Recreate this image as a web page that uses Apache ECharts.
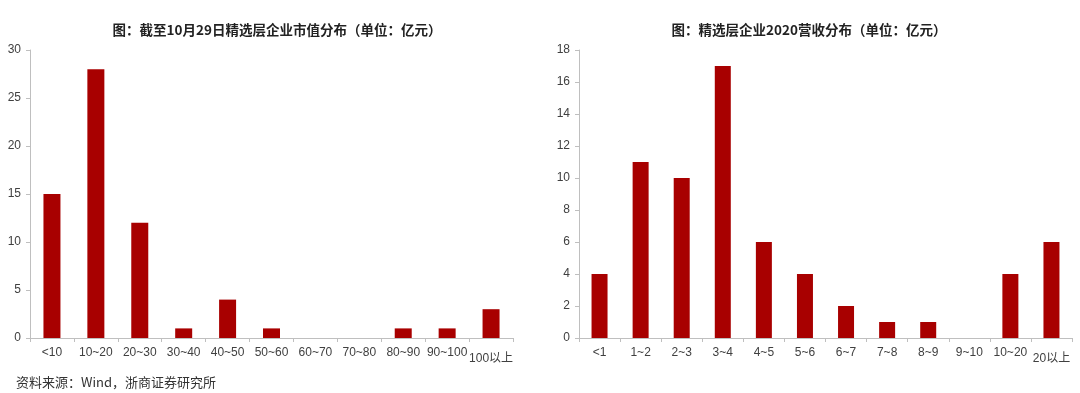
<!DOCTYPE html>
<html>
<head>
<meta charset="utf-8">
<script src="https://cdn.jsdelivr.net/npm/echarts@6/dist/echarts.min.js"></script>
<style>
html,body{margin:0;padding:0;background:#fff;}
#c{width:1080px;height:393px;}
</style>
</head>
<body>
<div id="c"></div>
<script>
// Left chart: market cap distribution
const capCategories = ['<10','10~20','20~30','30~40','40~50','50~60','60~70','70~80','80~90','90~100','100以上'];
const capValues = [15, 28, 12, 1, 4, 1, 0, 0, 1, 1, 3];
const capTicks = [0, 5, 10, 15, 20, 25, 30];

// Right chart: 2020 revenue distribution
const revCategories = ['<1','1~2','2~3','3~4','4~5','5~6','6~7','7~8','8~9','9~10','10~20','20以上'];
const revValues = [4, 11, 10, 17, 6, 4, 2, 1, 1, 0, 4, 6];
const revTicks = [0, 2, 4, 6, 8, 10, 12, 14, 16, 18];

const titleLeft = '图：截至10月29日精选层企业市值分布（单位：亿元）';
const titleRight = '图：精选层企业2020营收分布（单位：亿元）';
const sourceText = '资料来源：Wind，浙商证券研究所';

const barColor = '#a80000';
const axisColor = '#bfbfbf';
const labelColor = '#404040';
const latin = '"Liberation Sans", Arial, "Noto Sans CJK SC", sans-serif';

function xAxisOf(idx, cats) {
  return {
    type: 'category', gridIndex: idx, data: cats,
    axisLine: {show: true, lineStyle: {color: axisColor, width: 1}},
    axisTick: {show: true, length: 4, lineStyle: {color: axisColor}},
    axisLabel: {
      color: labelColor, fontSize: 12, fontFamily: latin, margin: 9, interval: 0,
      formatter: v => v.indexOf('以上') >= 0 ? '{s|' + v + '}' : v,
      rich: {s: {fontSize: 12, fontFamily: latin, color: labelColor, padding: [6, 0, 0, 0]}}
    }
  };
}
function yAxisOf(idx, ticks) {
  return {
    type: 'value', gridIndex: idx,
    min: ticks[0], max: ticks[ticks.length - 1], interval: ticks[1] - ticks[0],
    splitLine: {show: false},
    axisLine: {show: true, lineStyle: {color: axisColor, width: 1}},
    axisTick: {show: true, length: 4, lineStyle: {color: axisColor}},
    axisLabel: {color: labelColor, fontSize: 12, fontFamily: latin, margin: 9}
  };
}

const chart = echarts.init(document.getElementById('c'), null, {renderer: 'canvas'});
chart.setOption({
  animation: false,
  backgroundColor: '#ffffff',
  title: [
    {text: titleLeft, left: 272, top: 18, textAlign: 'center',
     textStyle: {fontSize: 13.5, fontWeight: 'bold', color: '#222', fontFamily: '"Noto Sans CJK SC", sans-serif'}},
    {text: titleRight, left: 804, top: 18, textAlign: 'center',
     textStyle: {fontSize: 13.5, fontWeight: 'bold', color: '#222', fontFamily: '"Noto Sans CJK SC", sans-serif'}},
    {text: sourceText, left: 11, top: 371,
     textStyle: {fontSize: 13, fontWeight: 'normal', color: '#333', fontFamily: '"Noto Sans CJK SC", sans-serif'}}
  ],
  grid: [
    {left: 30, top: 50, width: 483, height: 288},
    {left: 579, top: 50, width: 493, height: 288}
  ],
  xAxis: [xAxisOf(0, capCategories), xAxisOf(1, revCategories)],
  yAxis: [yAxisOf(0, capTicks), yAxisOf(1, revTicks)],
  series: [
    {type: 'bar', xAxisIndex: 0, yAxisIndex: 0, data: capValues, barWidth: 17,
     itemStyle: {color: barColor}},
    {type: 'bar', xAxisIndex: 1, yAxisIndex: 1, data: revValues, barWidth: 16,
     itemStyle: {color: barColor}}
  ]
});
</script>
</body>
</html>
